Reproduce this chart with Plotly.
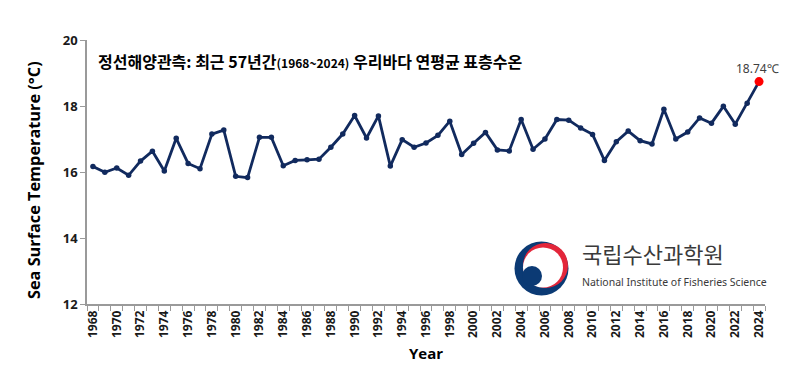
import plotly.graph_objects as go

years = list(range(1968, 2025))
sst = [16.17, 15.99, 16.12, 15.90, 16.33, 16.63, 16.03, 17.02, 16.26, 16.10,
       17.15, 17.27, 15.87, 15.83, 17.05, 17.05, 16.19, 16.35, 16.37, 16.39,
       16.75, 17.15, 17.71, 17.03, 17.70, 16.18, 16.98, 16.75, 16.88, 17.11,
       17.54, 16.53, 16.87, 17.20, 16.67, 16.64, 17.59, 16.69, 17.00, 17.59,
       17.57, 17.33, 17.14, 16.35, 16.92, 17.24, 16.95, 16.85, 17.90, 17.00,
       17.21, 17.64, 17.48, 17.99, 17.45, 18.08, 18.74]
y_ticks = [12, 14, 16, 18, 20]
title_text = "정선해양관측: 최근 57년간<span style='font-size:12px'>(1968~2024)</span> 우리바다 연평균 표층수온"
y_title = "Sea Surface Temperature (°C)"
last_label = "18.74℃"

OFF = 8  # page body margin
W, H = 800, 387
# plot area in page pixels: x 87..765, y 40..304
PL, PR, PT, PB = 87, 765, 40, 304
ML, MT = PL - OFF, PT - OFF
MR = W - ML - (PR - PL)
MB = H - MT - (PB - PT)
PW, PH = PR - PL, PB - PT

def px(x, y):
    return (x - PL) / PW, (PB - y) / PH

NAVY = "#112a5e"
fig = go.Figure()
fig.add_trace(go.Scatter(x=years, y=sst, mode="lines+markers",
                         line=dict(color=NAVY, width=2.8),
                         marker=dict(color=NAVY, size=5.5), hoverinfo="x+y"))
fig.add_trace(go.Scatter(x=[years[-1]], y=[sst[-1]], mode="markers",
                         marker=dict(color="#ff0000", size=9)))

fig.add_annotation(x=years[-1], y=sst[-1], text=last_label, showarrow=False,
                   yshift=13, xshift=-2, font=dict(family="Noto Sans", size=12, color="#404040"))

tx, ty = px(96, 61)
fig.add_annotation(xref="paper", yref="paper", x=tx, y=ty, xanchor="left", yanchor="middle",
                   text="<b>" + title_text + "</b>", showarrow=False,
                   font=dict(family="Noto Sans CJK KR", size=16, color="#000000"))

yx, yy = px(34, 180)
fig.add_annotation(xref="paper", yref="paper", x=yx, y=yy, xanchor="center", yanchor="middle",
                   text=y_title, textangle=-90, showarrow=False,
                   font=dict(family="Open Sans", size=16.3, color="#000", weight="bold"))

# logo
shapes = []
def circ(cx, cy, r, color):
    x0, y0 = px(cx - r, cy + r)
    x1, y1 = px(cx + r, cy - r)
    shapes.append(dict(type="circle", xref="paper", yref="paper", x0=x0, y0=y0, x1=x1, y1=y1,
                       fillcolor=color, line=dict(width=0), layer="above"))
circ(541.5, 268.5, 27, "#0b3a74")
circ(545.5, 265.5, 22.5, "#e3263a")
circ(543, 267.5, 20, "#ffffff")
circ(532, 276, 10, "#0b3a74")
lx, ly = px(580, 253)
fig.add_annotation(xref="paper", yref="paper", x=lx, y=ly, xanchor="left", yanchor="middle",
                   text="국립수산과학원", showarrow=False,
                   font=dict(family="Noto Sans CJK KR", size=22, color="#3a3a3a"))
lx2, ly2 = px(580, 282)
fig.add_annotation(xref="paper", yref="paper", x=lx2, y=ly2, xanchor="left", yanchor="middle",
                   text="National Institute of Fisheries Science", showarrow=False,
                   font=dict(family="Noto Sans", size=10.5, color="#3a3a3a"))

fig.update_layout(
    width=W, height=H, margin=dict(l=ML, r=MR, t=MT, b=MB),
    paper_bgcolor="white", plot_bgcolor="white", showlegend=False,
    shapes=shapes,
    xaxis=dict(range=[1967.5, 2024.5], tickmode="linear", tick0=1968, dtick=2,
               ticks="", tickangle=-90, showgrid=False, zeroline=False, automargin=False,
               showline=True, linecolor="#9a9a9a", linewidth=1.5,
               tickfont=dict(family="Open Sans", size=12, color="#1a1a1a", weight="bold"),
               minor=dict(tickmode="linear", tick0=1967.5, dtick=1, ticks="outside",
                          ticklen=5, tickcolor="#9a9a9a", showgrid=False),
               title=dict(text="Year", standoff=11,
                          font=dict(family="Open Sans", size=15, color="#000", weight="bold"))),
    yaxis=dict(range=[12, 20], tickvals=y_ticks, ticks="outside", ticklen=5,
               tickcolor="#9a9a9a", showgrid=False, zeroline=False, automargin=False,
               showline=True, linecolor="#9a9a9a", linewidth=1.5,
               tickfont=dict(family="Open Sans", size=13, color="#1a1a1a", weight="bold")),
)
fig.write_html("out.html")
